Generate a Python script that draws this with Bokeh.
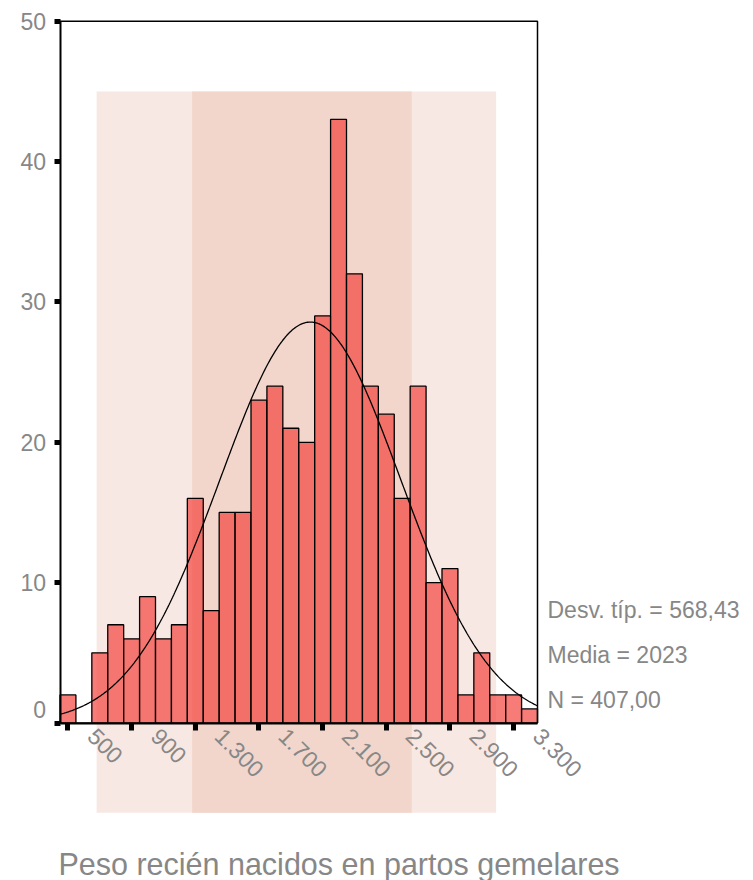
import math
import numpy as np
from bokeh.plotting import figure
from bokeh.models import Range1d, FixedTicker, Label, LinearAxis
from bokeh.embed import file_html
from bokeh.resources import INLINE

# ---- data ----
bin_width = 100
bin_centers = [500, 600, 700, 800, 900, 1000, 1100, 1200, 1300, 1400,
               1500, 1600, 1700, 1800, 1900, 2000, 2100, 2200, 2300, 2400,
               2500, 2600, 2700, 2800, 2900, 3000, 3100, 3200, 3300, 3400]
counts = [2, 0, 5, 7, 6, 9, 6, 7, 16, 8,
          15, 15, 23, 24, 21, 20, 29, 43, 32, 24,
          22, 16, 24, 10, 11, 2, 5, 2, 2, 1]
x_ticks = [500, 900, 1300, 1700, 2100, 2500, 2900, 3300]
x_tick_labels = ["500", "900", "1.300", "1.700", "2.100", "2.500", "2.900", "3.300"]
y_ticks = [0, 10, 20, 30, 40, 50]
stat_mean = 2023
stat_sd = 568.43
stat_n = 407
stats_text = ["Desv. típ. = 568,43", "Media = 2023", "N = 407,00"]
title_text = "Peso recién nacidos en partos gemelares"

# decorative background bands (data units)
band_light = (680, 3190)
band_dark = (1280, 2660)
band_top, band_bottom = 45, -6.4

# chart box (data units)
X_LO, X_HI = 450, 3450
Y_LO, Y_HI = 0, 50

# ---- layout (pixels) ----
W, H = 753, 880
box_left_px, box_right_px = 59.5, 537.0
box_top_px, box_bottom_px = 20.7, 722.5
sx = (box_right_px - box_left_px) / (X_HI - X_LO)
sy = (box_bottom_px - box_top_px) / (Y_HI - Y_LO)
view_x0 = X_LO - box_left_px / sx
view_x1 = view_x0 + W / sx
view_y1 = Y_HI + box_top_px / sy
view_y0 = view_y1 - H / sy

FONT = "'Liberation Sans', Arial, sans-serif"
GREY = "#878787"

p = figure(frame_width=W, frame_height=H,
           min_border_left=0, min_border_top=0, min_border_right=0, min_border_bottom=0,
           x_range=Range1d(view_x0, view_x1), y_range=Range1d(view_y0, view_y1),
           x_axis_location=None, y_axis_location=None,
           output_backend="svg", toolbar_location=None)
p.background_fill_color = "white"
p.border_fill_color = "white"
p.outline_line_color = None
p.grid.visible = False

# bands
p.quad(left=[band_light[0]], right=[band_light[1]], top=[band_top], bottom=[band_bottom],
       fill_color="#F8E8E4", line_color=None, level="underlay")
p.quad(left=[band_dark[0]], right=[band_dark[1]], top=[band_top], bottom=[band_bottom],
       fill_color="#F2D6CC", line_color=None, level="underlay")

# bars
lefts = [c - bin_width / 2 for c in bin_centers]
rights = [c + bin_width / 2 for c in bin_centers]
p.quad(left=lefts, right=rights, top=counts, bottom=0,
       fill_color="#F4443E", fill_alpha=0.7, line_color="black", line_width=1.3)

# normal curve from the stats
xs = np.linspace(X_LO, X_HI, 400)
ys = stat_n * bin_width / (stat_sd * math.sqrt(2 * math.pi)) * np.exp(-0.5 * ((xs - stat_mean) / stat_sd) ** 2)
p.line(xs, ys, line_color="black", line_width=1.3)

# box top / right
p.line([X_LO, X_HI, X_HI], [Y_HI, Y_HI, Y_LO], line_color="black", line_width=1.5)

# x axis: ticks
xa = LinearAxis(fixed_location=0, bounds=(X_LO, X_HI), ticker=FixedTicker(ticks=x_ticks))
xa.major_label_text_alpha = 0
xa.axis_line_width = 2
xa.major_tick_in = 0
xa.major_tick_out = 7
xa.major_tick_line_width = 5
xa.minor_tick_line_color = None
p.add_layout(xa, "below")

# x axis: rotated labels, offset to the right of their ticks as in the original
label_shift = 24 / sx
shifted = [t + label_shift for t in x_ticks]
xl = LinearAxis(fixed_location=0, ticker=FixedTicker(ticks=shifted))
xl.major_label_overrides = {s: l for s, l in zip(shifted, x_tick_labels)}
xl.major_label_orientation = -math.pi / 4
xl.axis_line_color = None
xl.major_tick_line_color = None
xl.minor_tick_line_color = None
xl.major_label_text_font = FONT
xl.major_label_text_font_size = "23px"
xl.major_label_text_color = GREY
xl.major_label_standoff = 3
p.add_layout(xl, "below")

# y axis
ya = LinearAxis(fixed_location=X_LO, bounds=(Y_LO, Y_HI), ticker=FixedTicker(ticks=y_ticks))
ya.major_label_overrides = {0: ""}
ya.axis_line_width = 2
ya.major_tick_in = 0
ya.major_tick_out = 6
ya.major_tick_line_width = 5
ya.minor_tick_line_color = None
ya.major_label_text_font = FONT
ya.major_label_text_font_size = "23px"
ya.major_label_text_color = GREY
ya.major_label_standoff = 8
p.add_layout(ya, "left")

# "0" label sits above its tick in the original
p.add_layout(Label(x=X_LO, y=0, x_offset=-14, y_offset=14, text="0", text_align="right",
                   text_baseline="middle", text_font=FONT, text_font_size="23px", text_color=GREY))

# stats
for i, s in enumerate(stats_text):
    p.add_layout(Label(x=X_HI, y=0, x_offset=10, y_offset=113 - i * 45, text=s,
                       text_align="left", text_baseline="alphabetic",
                       text_font=FONT, text_font_size="23px", text_color=GREY))

# title
p.add_layout(Label(x=X_LO, y=0, x_offset=279, y_offset=-141, text=title_text,
                   text_align="center", text_baseline="alphabetic",
                   text_font=FONT, text_font_size="30.5px", text_color=GREY))

open("out.html", "w").write(file_html(p, INLINE))
